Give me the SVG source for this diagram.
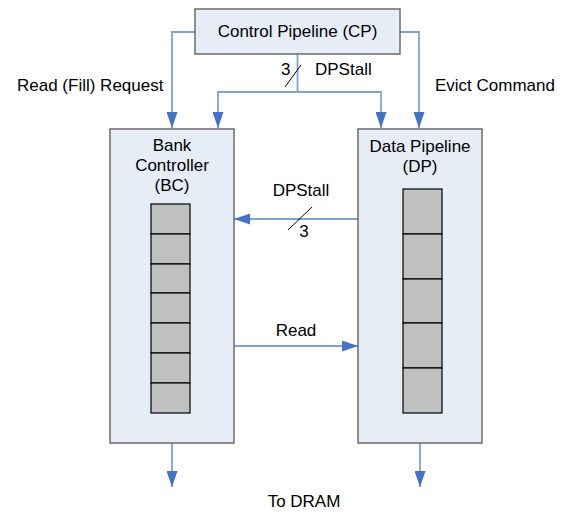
<svg xmlns="http://www.w3.org/2000/svg" width="564" height="513" viewBox="0 0 564 513">
  <style>
    text { font-family: "Liberation Sans", Arial, sans-serif; font-size: 17px; fill: #000; }
    .mid { text-anchor: middle; }
    .block { fill: #e6edf7; stroke: #6b6b6b; stroke-width: 1.5; }
    .cell { fill: #c0c0c0; stroke: #000; stroke-width: 1.2; }
    .wire { fill: none; stroke: #7fa2d6; stroke-width: 1.8; }
    .tick { fill: none; stroke: #000; stroke-width: 1; }
  </style>
  <defs>
    <marker id="arrow" markerWidth="16" markerHeight="11" refX="16" refY="5.5" orient="auto" markerUnits="userSpaceOnUse">
      <path d="M0,0 L16,5.5 L0,11 Z" fill="#4472c4"/>
    </marker>
  </defs>
  <rect width="564" height="513" fill="#fff"/>

  <g id="connectors">
    <!-- Read (Fill) Request: CP to BC -->
    <path class="wire" d="M195,32 H172 V128" marker-end="url(#arrow)"/>
    <!-- Evict Command: CP to DP -->
    <path class="wire" d="M400,32 H419 V128" marker-end="url(#arrow)"/>
    <!-- DPStall bus from CP, split to both blocks -->
    <path class="wire" d="M297.5,54 V92"/>
    <path class="wire" d="M297.5,92 H218 V128" marker-end="url(#arrow)"/>
    <path class="wire" d="M297.5,92 H381 V128" marker-end="url(#arrow)"/>
    <line class="tick" x1="285" y1="87" x2="301" y2="65"/>
    <!-- DPStall: DP to BC -->
    <path class="wire" d="M358,219 H234" marker-end="url(#arrow)"/>
    <line class="tick" x1="288" y1="230" x2="312" y2="207"/>
    <!-- Read: BC to DP -->
    <path class="wire" d="M234,346 H358" marker-end="url(#arrow)"/>
    <!-- To DRAM -->
    <path class="wire" d="M172,443 V487" marker-end="url(#arrow)"/>
    <path class="wire" d="M420,443 V487" marker-end="url(#arrow)"/>
  </g>

  <g id="labels">
    <text x="17" y="91">Read (Fill) Request</text>
    <text x="435" y="91">Evict Command</text>
    <text x="281" y="75">3</text>
    <text x="315" y="75">DPStall</text>
    <text class="mid" x="301" y="196">DPStall</text>
    <text class="mid" x="304" y="237">3</text>
    <text class="mid" x="296" y="336">Read</text>
    <text class="mid" x="304" y="507">To DRAM</text>
  </g>

  <g id="cp">
    <rect class="block" x="195" y="9" width="205" height="45"/>
    <text class="mid" x="297.5" y="37">Control Pipeline (CP)</text>
  </g>

  <g id="bc">
    <rect class="block" x="110" y="129" width="124" height="314"/>
    <text class="mid" x="172" y="151">Bank</text>
    <text class="mid" x="172" y="171">Controller</text>
    <text class="mid" x="172" y="191">(BC)</text>
    <rect class="cell" x="151" y="204" width="39" height="30"/>
    <rect class="cell" x="151" y="234" width="39" height="30"/>
    <rect class="cell" x="151" y="264" width="39" height="29"/>
    <rect class="cell" x="151" y="293" width="39" height="30"/>
    <rect class="cell" x="151" y="323" width="39" height="30"/>
    <rect class="cell" x="151" y="353" width="39" height="30"/>
    <rect class="cell" x="151" y="383" width="39" height="30"/>
  </g>

  <g id="dp">
    <rect class="block" x="358" y="129" width="124" height="314"/>
    <text class="mid" x="420" y="152">Data Pipeline</text>
    <text class="mid" x="420" y="172">(DP)</text>
    <rect class="cell" x="403" y="189" width="39" height="45"/>
    <rect class="cell" x="403" y="234" width="39" height="45"/>
    <rect class="cell" x="403" y="279" width="39" height="44"/>
    <rect class="cell" x="403" y="323" width="39" height="45"/>
    <rect class="cell" x="403" y="368" width="39" height="45"/>
  </g>
</svg>
